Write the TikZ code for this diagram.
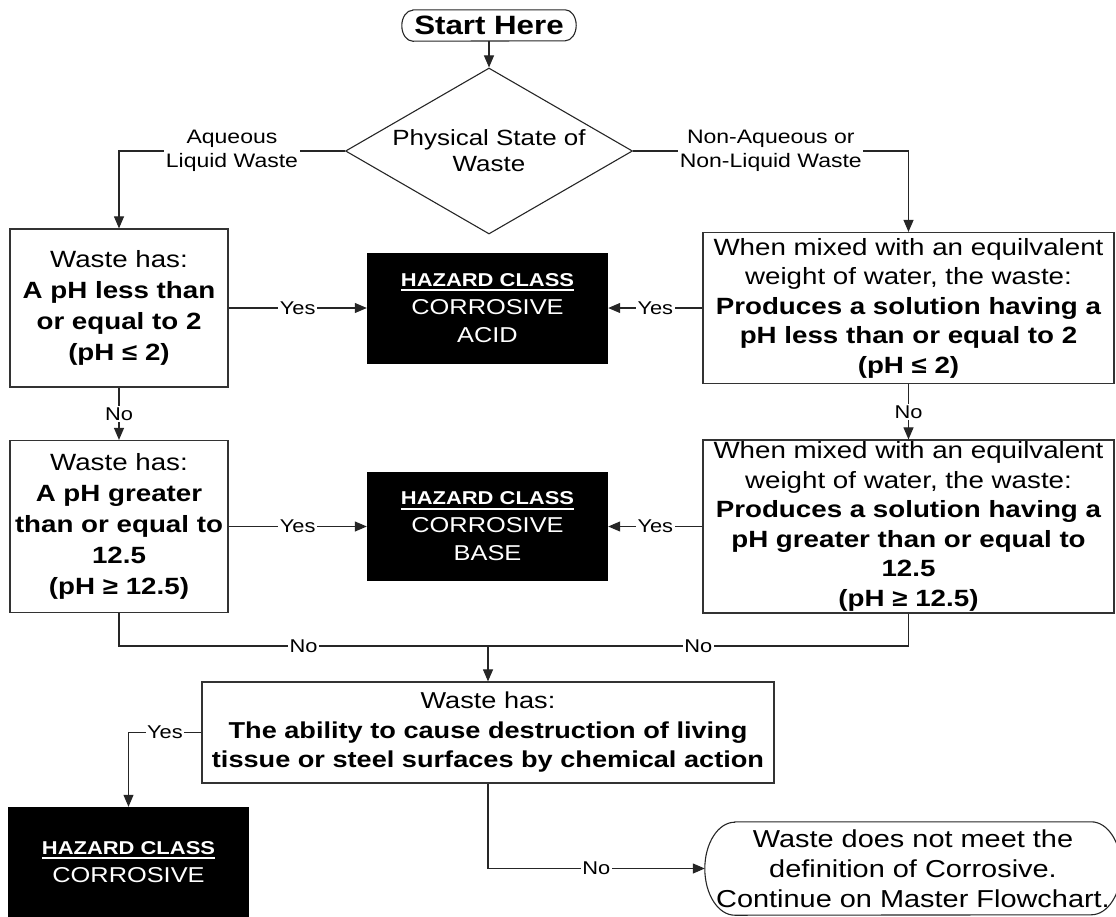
\documentclass[tikz,border=0pt]{standalone}
\usepackage{fontspec}
\setmainfont{Liberation Sans}[FakeStretch=1.18]
\usetikzlibrary{arrows.meta,shapes.geometric}

% white underline for the "HAZARD CLASS" headings
\newcommand\hazhead[1]{\setbox0\hbox{#1}\rlap{\vrule width \wd0 height -3pt depth 5pt}\box0}
\newcommand\fs[2]{\fontsize{#1}{#2}\selectfont}

\tikzset{
  conn/.style={draw=black!85, line width=1.1pt},
  arr/.style={conn, -{Triangle[length=12pt,width=10pt]}},
  box/.style={draw=black!80, line width=1.2pt, fill=white, align=center,
    inner sep=0pt, font=\fs{23.5}{29.5}},
  lbox/.style={box, font=\fs{23.5}{31}},
  hz/.style={fill=black, text=white, align=center, inner sep=0pt,
    font=\fs{21.5}{28}},
  decision/.style={diamond, draw=black!85, line width=1.1pt, aspect=1.73,
    inner sep=0pt, minimum width=287pt, minimum height=166pt, align=center,
    font=\fs{22}{26}},
  term/.style={align=center, inner sep=0pt},
  lbl/.style={fill=white, inner sep=1.5pt, align=center, font=\fs{18.5}{21}},
  lblbig/.style={fill=white, inner sep=1.5pt, align=center, font=\fs{19.5}{24}},
}

\begin{document}
\begin{tikzpicture}[x=1pt,y=-1pt]
\clip (0,0) rectangle (1116,916);

% start terminal
\node[term, minimum width=174pt, minimum height=31pt, font=\fs{26.5}{28}\bfseries]
  (start) at (489,25.5) {Start Here};
\draw[conn] ([xshift=11]start.north west) -- ([xshift=-11]start.north east)
  arc[start angle=90, end angle=-90, x radius=11pt, y radius=15.5pt]
  -- ([xshift=11]start.south west)
  arc[start angle=270, end angle=90, x radius=11pt, y radius=15.5pt] -- cycle;

% first decision
\node[decision] (state) at (489,151) {Physical State of\\Waste};

% acid tests
\node[lbox, minimum width=218pt, minimum height=158pt] (L1) at (119,308)
  {Waste has:\\\textbf{A pH less than}\\\textbf{or equal to 2}\\\textbf{(pH ≤ 2)}};
\node[box, minimum width=411pt, minimum height=151pt] (R1) at (908.5,308)
  {When mixed with an equilvalent\\weight of water, the waste:\\
   \textbf{Produces a solution having a}\\\textbf{pH less than or equal to 2}\\
   \textbf{(pH ≤ 2)}};
\node[hz, minimum width=241pt, minimum height=111pt] (acid) at (487.5,308)
  {{\fs{18.6}{22}\bfseries\hazhead{HAZARD CLASS}}\\CORROSIVE\\ACID};

% base tests
\node[lbox, minimum width=218pt, minimum height=172pt] (L2) at (119,526.5)
  {Waste has:\\\textbf{A pH greater}\\\textbf{than or equal to}\\\textbf{12.5}\\
   \textbf{(pH ≥ 12.5)}};
\node[box, minimum width=411pt, minimum height=173pt] (R2) at (908.5,526.5)
  {When mixed with an equilvalent\\weight of water, the waste:\\
   \textbf{Produces a solution having a}\\\textbf{pH greater than or equal to}\\
   \textbf{12.5}\\\textbf{(pH ≥ 12.5)}};
\node[hz, minimum width=241pt, minimum height=109pt] (base) at (487.5,526.5)
  {{\fs{18.6}{22}\bfseries\hazhead{HAZARD CLASS}}\\CORROSIVE\\BASE};

% destruction test
\coordinate (merge) at (488,646);
\node[box, minimum width=572pt, minimum height=101pt, font=\fs{23}{29.5}] (B) at (488,732.5)
  {Waste has:\\\textbf{The ability to cause destruction of living}\\
   \textbf{tissue or steel surfaces by chemical action}};
\node[hz, minimum width=241pt, minimum height=110pt] (corr) at (128.5,862)
  {{\fs{18.6}{22}\bfseries\hazhead{HAZARD CLASS}}\\CORROSIVE};

% end terminal
\node[term, minimum width=416pt, minimum height=93pt, font=\fs{24.5}{30}]
  (end) at (913,868.5)
  {Waste does not meet the\\definition of Corrosive.\\Continue on Master Flowchart.};
\draw[conn] ([xshift=30]end.north west) -- ([xshift=-30]end.north east)
  arc[start angle=90, end angle=-90, x radius=30pt, y radius=46.5pt]
  -- ([xshift=30]end.south west)
  arc[start angle=270, end angle=90, x radius=30pt, y radius=46.5pt] -- cycle;

% connectors
\draw[arr] (start) -- (state);
\draw[arr] (state.west) -| node[lblbig, pos=0.25] {Aqueous\\Liquid Waste} (L1.north);
\draw[arr] (state.east) -| node[lblbig, pos=0.25] {Non-Aqueous or\\Non-Liquid Waste} (R1.north);
\draw[arr] (L1.east) -- node[lbl] {Yes} (acid.west);
\draw[arr] (R1.west) -- node[lbl] {Yes} (acid.east);
\draw[arr] (L1.south) -- node[lbl] {No} (L2.north);
\draw[arr] (R1.south) -- node[lbl] {No} (R2.north);
\draw[arr] (L2.east) -- node[lbl] {Yes} (base.west);
\draw[arr] (R2.west) -- node[lbl] {Yes} (base.east);
\draw[conn] (L2.south) |- node[lbl, pos=0.75] {No} (merge);
\draw[conn] (R2.south) |- node[lbl, pos=0.75] {No} (merge);
\draw[arr] (merge) -- (B.north);
\draw[arr] (B.west) -| node[lbl, pos=0.25] {Yes} (corr.north);
\draw[arr] (B.south) |- node[lbl, pos=0.75] {No} (end.west);
\end{tikzpicture}
\end{document}
